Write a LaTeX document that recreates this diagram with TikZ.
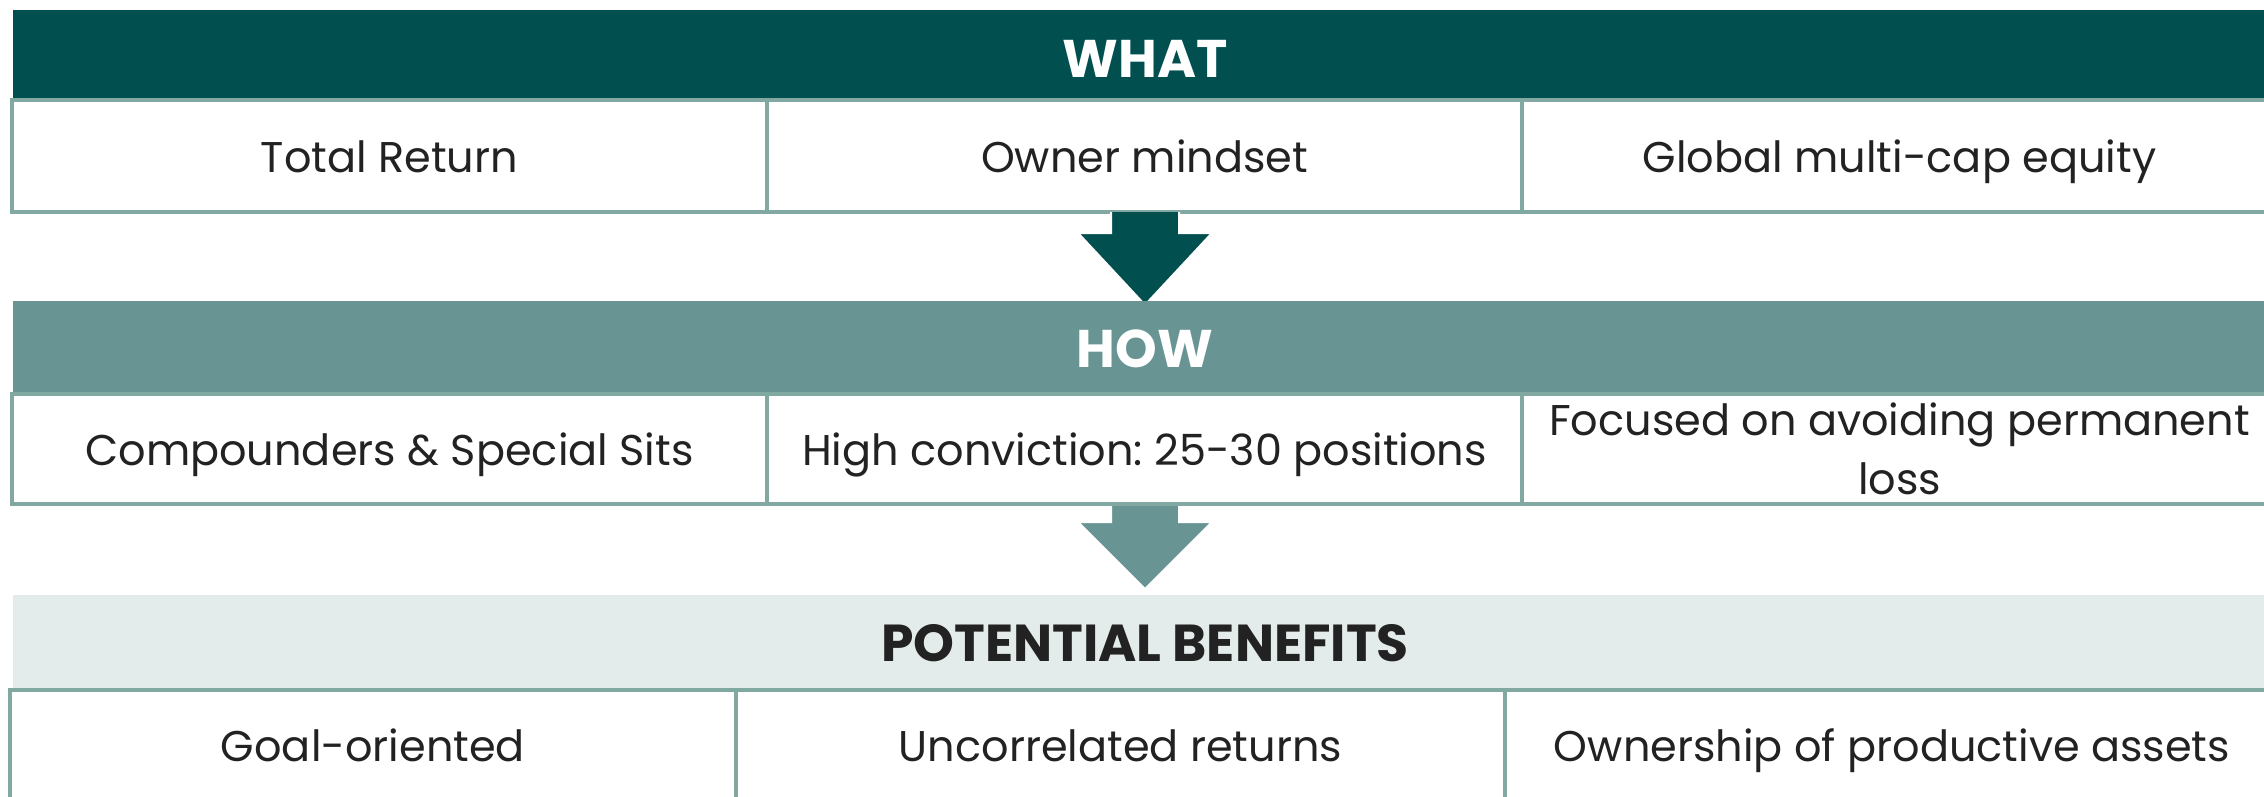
\documentclass[tikz,border=0pt]{standalone}
\usepackage{fontspec}
\setmainfont{Poppins}
\frenchspacing
\usetikzlibrary{positioning}

\definecolor{whatteal}{HTML}{024F50}
\definecolor{howteal}{HTML}{689594}
\definecolor{benefitgray}{HTML}{E3ECEB}
\definecolor{cellline}{HTML}{82A8A2}
\definecolor{bodytext}{HTML}{222222}

\begin{document}
\begin{tikzpicture}[x=1pt, y=-1pt,
  band/.style={anchor=north west, inner sep=0pt, outer sep=0pt, minimum width=2264pt},
  bandtitle/.style={inner sep=0pt, font=\fontsize{53}{60}\selectfont\bfseries},
  cell/.style={draw=cellline, line width=4.5pt, fill=white, anchor=north west,
    inner sep=0pt, outer sep=0pt, align=center, text=bodytext,
    font=\fontsize{43}{59}\selectfont},
  oneline/.style={text height=32pt, text depth=0pt},
  celltext/.style={inner sep=0pt, text=bodytext, font=\fontsize{43}{59}\selectfont, oneline},
  downarrow/.style={draw=white, line width=2pt}]
  \useasboundingbox (0,0) rectangle (2264,797);
  \clip (0,0) rectangle (2264,797);

  % what
  \node[band, fill=whatteal, minimum height=88pt] (what) at (13,10) {};
  \node[bandtitle, text=white] (whattitle) at ([yshift=-5pt]what.center) {WHAT};
  \node[cell, oneline, minimum width=755pt, minimum height=112pt] (w1) at (12,100) {Total Return};
  \node[cell, oneline, minimum width=755pt, minimum height=112pt, right=0pt of w1] (w2) {Owner mindset};
  \node[cell, oneline, minimum width=755pt, minimum height=112pt, right=0pt of w2] (w3) {Global multi-cap equity};

  % arrow what -> how
  \fill[whatteal, downarrow] (1111,212) -- (1111,233) -- (1078,233) -- (1145,305)
    -- (1212,233) -- (1179,233) -- (1179,212);

  % how
  \node[band, fill=howteal, minimum height=91pt] (how) at (13,301) {};
  \node[bandtitle, text=white] (howtitle) at ([yshift=-2.5pt]how.center) {HOW};
  \node[cell, oneline, minimum width=755pt, minimum height=110pt] (h1) at (12,394) {Compounders \& Special Sits};
  \node[cell, oneline, minimum width=755pt, minimum height=110pt, right=0pt of h1] (h2) {High conviction: 25-30 positions};
  \node[cell, minimum width=755pt, minimum height=110pt, right=0pt of h2] (h3) {Focused on avoiding permanent\\loss};

  % arrow how -> benefits
  \fill[howteal, downarrow] (1111,506) -- (1111,522) -- (1078,522) -- (1145,589)
    -- (1212,522) -- (1179,522) -- (1179,506);

  % benefits
  \node[band, fill=benefitgray, minimum height=93pt] (benefits) at (13,595) {};
  \node[bandtitle, text=bodytext, font=\fontsize{52}{60}\selectfont\bfseries] (benefitstitle)
    at ([yshift=-2pt]benefits.center) {POTENTIAL BENEFITS};
  \node[cell, minimum width=726pt, minimum height=150pt] (b1) at (10,690) {};
  \node[cell, minimum width=769pt, minimum height=150pt, right=0pt of b1] (b2) {};
  \node[cell, minimum width=774pt, minimum height=150pt, right=0pt of b2] (b3) {};
  \node[celltext] (b1text) at ([yshift=-55pt]b1.north) {Goal-oriented};
  \node[celltext] (b2text) at ([yshift=-55pt]b2.north) {Uncorrelated returns};
  \node[celltext] (b3text) at ([yshift=-55pt]b3.north) {Ownership of productive assets};
\end{tikzpicture}
\end{document}
